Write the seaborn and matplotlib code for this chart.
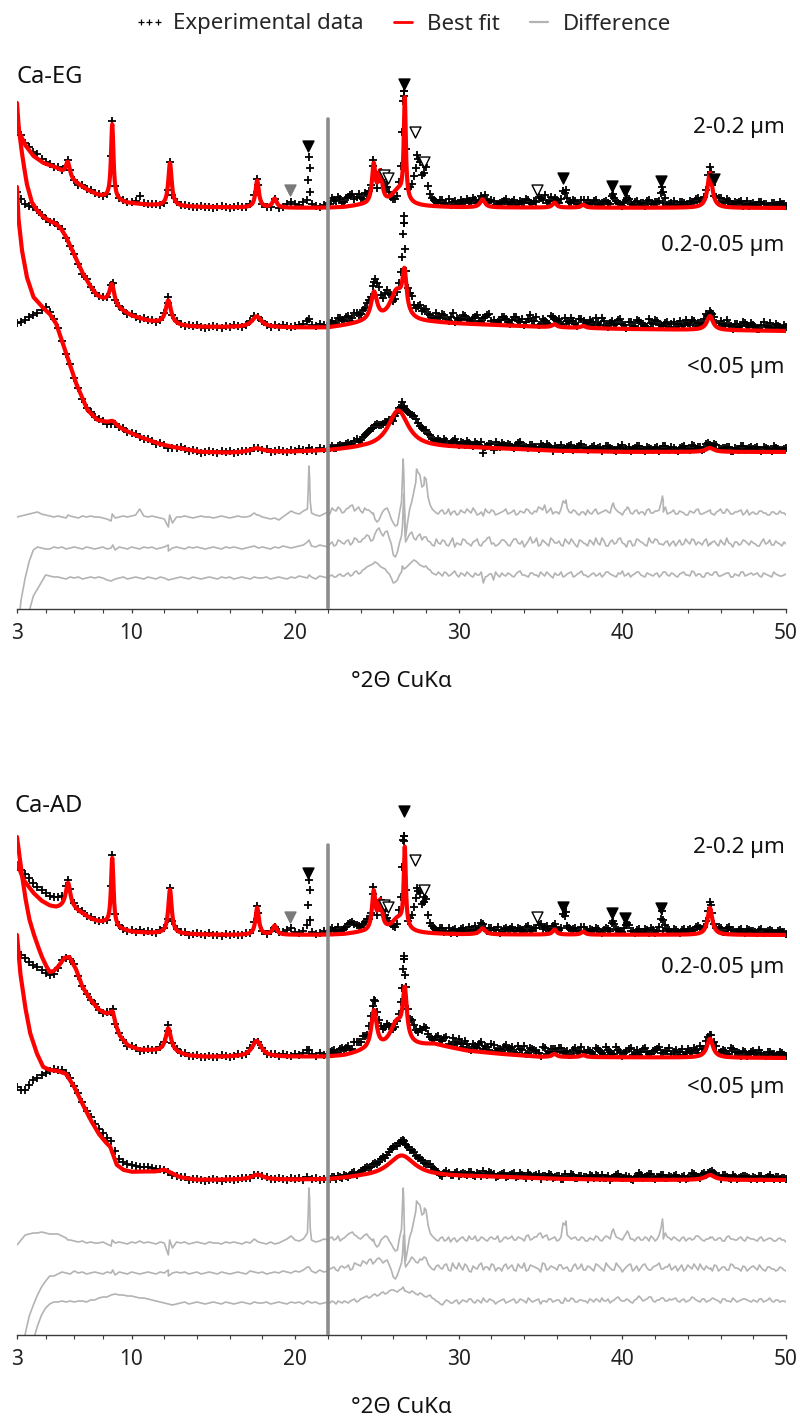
import numpy as np
import matplotlib
matplotlib.use("Agg")
import matplotlib.pyplot as plt
from matplotlib.lines import Line2D
import seaborn as sns

# ---------------------------------------------------------------------------
# XRD patterns of Ca-saturated clay fractions (ethylene glycol / air dried).
# Intensities are in display units above each pattern's own baseline.
# Profile fits: background knots (2θ, I) + Lorentzian peaks (2θ, height, FWHM).
# Residuals (observed - fit) listed on a 0.25° 2θ grid from 3° to 50°,
# a second interleaved 0.25° grid from 22.125° to 49.875°, and extra
# observed points on sharp reflections.
# ---------------------------------------------------------------------------
GRID_START, GRID_STEP = 3.0, 0.25
HALF_START = 22.125

# ---------------- Ca-EG, 2-0.2 µm ----------------
eg1_bg = [(3.0, 80), (3.5, 63), (4.0, 52), (4.6, 45), (5.4, 40), (5.8, 35), (6.5, 26), (7.3, 18),
          (7.9, 13), (8.5, 10), (9.2, 7), (9.7, 5), (11.0, 3), (12.0, 2), (14.0, 1), (16.0, 0.5),
          (19.0, 0), (22.0, 0), (23.0, 0.5), (24.0, 2), (28.0, 1), (30.0, 0.5), (50.0, 0)]
eg1_peaks = [(6.1, 15, 0.3), (8.82, 75, 0.18), (12.35, 43, 0.25), (17.68, 27, 0.25), (18.75, 9, 0.3),
             (24.8, 38, 0.25), (25.2, 30, 0.3), (26.3, 15, 1.0), (26.7, 100, 0.15), (31.45, 8, 0.35),
             (35.85, 5, 0.3), (37.6, 3, 0.3), (45.35, 35, 0.35)]
eg1_res = [0, 1, 2, 3, 4, 5, 3, 2, 1, 0, 1, 0, -1, 1, 0, -1, 1, 0, 1, 0,
           0, -1, -2, -4, -1, 0, 1, 0, 1, 2, 8, 1, 0, 1, 0, -1, -2, -10, -6, 0,
           0, 1, 0, -1, 0, 1, 0, 0, -1, 0, 1, 0, -1, 0, 1, 0, 0, 1, 4, 2,
           0, -1, -2, -1, -3, 0, 3, 6, 4, 3, 6, 8, 4, 2, 1, 3, 5, 9, 6, 8,
           5, 9, 12, 8, 6, 9, 7, 3, -5, 2, 8, 4, -6, -8, 15, -20, 8, 25, 45, 30,
           38, 12, 6, 3, 7, 4, 2, 6, 3, 5, 8, 4, 6, 3, 1, 5, 7, 2, 4, 6,
           3, 5, 2, 6, 4, 7, 3, 5, 9, 12, 6, 3, 5, 8, 14, 5, 7, 3, 5, 2,
           4, 6, 3, 5, 7, 4, 10, 5, 2, 8, 4, 6, 3, 5, 7, 4, 6, 7, 5, 3,
           5, 3, 6, 4, 2, 5, 7, 3, 4, 6, 3, 5, 8, 4, 6, 3, 5, 7, 4, 2,
           5, 3, 6, 4, 2, 5, 3, 4, 2]
eg1_res_half = [3, 7, 10, 4, 8, 11, 6, 10, 4, 7, 5, -2, -3, 6, 9, -2, -9, 4, 50, -5,
                15, 35, 42, 32, 20, 8, 4, 6, 3, 8, 5, 2, 7, 4, 6, 9, 2, 5, 8, 4,
                6, 3, 5, 8, 4, 7, 3, 5, 8, 4, 6, 10, 7, 4, 9, 5, 3, 16, 9, 4,
                6, 2, 5, 7, 3, 8, 4, 6, 5, 12, 7, 4, 6, 9, 3, 7, 5, 2, 8, 4,
                6, 15, 10, 4, 7, 3, 5, 2, 6, 4, 8, 3, 5, 7, 2, 6, 4, 8, 3, 5,
                6, 2, 7, 4, 3, 6, 4, 2, 5, 3, 6, 4]
eg1_extra = [(6.12, 2), (8.82, 3), (12.33, 2), (17.66, 2), (20.80, 28), (20.84, 51), (20.88, 40),
             (20.92, 16), (24.78, 4), (26.56, 40), (26.60, 58), (26.64, 44), (26.68, 12), (27.42, 48),
             (27.90, 40), (36.55, 17), (39.45, 14), (40.30, 10), (42.45, 21), (42.50, 16), (45.40, 4)]

# ---------------- Ca-EG, 0.2-0.05 µm ----------------
eg2_bg = [(3.0, 224), (3.1, 200), (3.25, 180), (3.4, 163), (3.6, 143), (3.9, 125), (4.2, 117),
          (4.6, 110), (5.0, 106), (5.4, 103), (5.7, 98), (6.0, 90), (6.5, 72), (7.0, 54), (7.5, 40),
          (7.9, 31), (8.3, 27), (8.8, 23), (9.2, 18), (10.0, 11), (11.0, 6), (12.0, 3), (13.0, 1),
          (14.0, 0), (22.0, -1), (23.0, 1), (24.0, 3), (25.0, 4), (28.5, 4), (30.0, 3), (32.0, 2),
          (35.0, 0), (40.0, -2), (50.0, -4)]
eg2_peaks = [(8.8, 20, 0.35), (12.25, 24, 0.4), (17.65, 11, 0.7), (24.82, 28, 0.45), (26.2, 30, 1.0),
             (26.68, 39, 0.3), (35.85, 3, 0.35), (37.6, 2, 0.35), (45.35, 14, 0.45)]
eg2_res = [-89, -52, -30, -13, -2, 1, 0, -1, -1, 1, 0, 1, -1, 0, 1, 0, -1, 1, 0, -1,
           0, 1, -1, 0, -2, 1, 0, -1, 1, 0, -1, 1, 0, 1, -1, 0, 1, -3, 0, 1,
           0, -1, 1, 0, 1, 0, -1, 0, 1, 0, -1, 1, 0, 1, 0, -1, 0, 1, 2, 0,
           1, 0, -1, 1, 0, 2, 1, 0, 1, 2, 3, 6, 2, 1, 3, 2, 1, 6, 3, 7,
           4, 8, 5, 9, 6, 10, 12, 8, 18, 15, 16, 10, -7, -4, 12, 6, 14, 10, 12, 8,
           11, 6, 2, 5, 8, 3, 6, 1, 4, 9, 5, 2, 7, 3, 6, 10, 4, 2, 5, 8,
           3, 6, 9, 4, 1, 7, 5, 10, 3, 6, 2, 8, 5, 3, 9, 4, 6, 1, 7, 4,
           8, 3, 5, 10, 2, 6, 4, 9, 5, 1, 7, 3, 8, 5, 2, 6, 9, 4, 3, 7,
           5, 2, 8, 4, 6, 9, 3, 5, 7, 2, 6, 4, 8, 3, 5, 1, 6, 4, 7, 3,
           5, 2, 6, 4, 8, 3, 5, 2, 4]
eg2_res_half = [4, 2, 8, 5, 7, 3, 10, 6, 9, 13, 7, 14, 20, 12, 17, 4, -9, 5, 48, 10,
                16, 8, 14, 11, 7, 3, 9, 4, 7, 2, 10, 5, 3, 8, 4, 6, 9, 2, 7, 11,
                5, 3, 8, 6, 2, 9, 5, 7, 4, 11, 6, 2, 8, 4, 10, 5, 7, 2, 6, 9,
                3, 8, 5, 2, 6, 10, 3, 7, 2, 8, 5, 10, 4, 7, 2, 9, 6, 3, 10, 5,
                8, 4, 6, 2, 7, 5, 3, 9, 4, 8, 6, 3, 9, 5, 7, 2, 5, 10, 4, 6,
                3, 8, 5, 7, 4, 2, 9, 5, 3, 7, 4, 6]
eg2_extra = [(8.85, 3), (12.25, 3), (20.85, 8), (24.80, 10), (26.56, 22), (26.60, 40), (26.63, 54),
             (26.66, 45), (26.70, 20), (45.40, 4)]

# ---------------- Ca-EG, <0.05 µm ----------------
eg3_bg = [(3.0, 265), (3.08, 235), (3.3, 202), (3.6, 175), (4.0, 155), (4.6, 144), (5.0, 138),
          (5.4, 128), (6.0, 99), (6.6, 69), (7.3, 42), (7.9, 32), (8.5, 29), (9.0, 26), (9.5, 22),
          (10.5, 15), (11.7, 8), (12.5, 5), (13.5, 2), (14.2, 0), (16.0, -1), (20.0, 0), (22.0, 1),
          (24.0, 3), (28.5, 4), (30.0, 4), (33.0, 3), (36.0, 1), (40.0, 0), (50.0, 0)]
eg3_peaks = [(8.85, 4, 0.5), (17.65, 4, 1.0), (26.3, 38, 1.5), (45.35, 4, 0.6)]
eg3_res = [-136, -80, -52, -33, -18, -11, -4, 3, 2, 1, 1, 0, -1, 1, 0, 1, -1, 0, 1, 0,
           1, 0, -2, -3, -1, 0, 1, -1, 0, 1, 0, -1, 1, 0, -1, 1, 0, -2, -1, 0,
           1, 0, -1, 1, 0, -1, 0, 1, 0, -1, 1, 0, 1, -1, 0, 1, 0, -1, 1, 0,
           0, 1, -1, 0, 1, 0, -1, 1, 0, 2, 1, 0, 1, -1, 2, 1, 0, 3, 1, 4,
           2, 5, 3, 7, 5, 9, 12, 14, 15, 11, 9, 4, -5, -2, 6, 10, 14, 18, 15, 12,
           12, 8, 4, 6, 2, 5, 3, 7, 1, 4, 6, 2, 5, 3, -5, 2, 4, 6, 1, 3,
           5, 2, 4, 7, 3, 1, 5, 3, 6, 2, 4, 0, 3, 6, 2, 5, 1, 4, 7, 3,
           2, 5, 3, 1, 6, 4, 2, 5, 7, 3, 1, 4, 6, 2, 5, 3, 4, 1, 6, 3,
           5, 2, 4, 6, 3, 7, 2, 4, 1, 5, 3, 6, 2, 4, 5, 1, 3, 6, 2, 4,
           3, 5, 1, 4, 2, 6, 3, 2, 4]
eg3_res_half = [2, 1, 3, 2, 4, 2, 6, 4, 8, 11, 13, 16, 13, 10, 6, 0, -4, 3, 10, 12,
                16, 17, 13, 11, 9, 5, 3, 4, 6, 2, 5, 3, 5, 2, 4, 1, 3, 6, 1, 4,
                -2, 3, 5, 2, 4, 1, 6, 3, 2, 5, 3, 1, 4, 6, 2, 5, 3, 1, 4, 6,
                2, 5, 3, 1, 4, 2, 5, 3, 6, 3, 1, 4, 2, 5, 3, 6, 3, 1, 4, 2,
                5, 3, 6, 2, 4, 1, 5, 3, 2, 6, 4, 1, 5, 3, 6, 2, 3, 5, 1, 4,
                2, 6, 3, 5, 4, 2, 5, 3, 1, 4, 2, 3]
eg3_extra = [(20.85, 3), (26.55, 12), (26.65, 9)]

# ---------------- Ca-AD, 2-0.2 µm ----------------
ad1_bg = [(3.0, 72), (3.4, 55), (4.0, 42), (4.5, 34), (5.0, 29), (5.4, 27), (5.8, 27), (6.5, 25),
          (7.0, 21), (7.5, 16), (8.0, 13), (8.4, 12), (9.2, 6), (10.0, 3), (11.0, 2), (12.0, 1.5),
          (14.0, 0.5), (16.0, 0), (22.0, 0), (23.0, 0.5), (24.0, 2), (28.0, 1), (30.0, 0.5), (50.0, 0)]
ad1_peaks = [(6.12, 26, 0.35), (8.82, 68, 0.18), (12.35, 44, 0.25), (17.68, 27, 0.25), (18.75, 9, 0.3),
             (24.8, 38, 0.25), (25.2, 28, 0.3), (26.3, 14, 1.0), (26.7, 78, 0.15), (31.45, 6, 0.4),
             (35.85, 5, 0.3), (37.6, 3, 0.3), (45.35, 27, 0.35)]
ad1_res = [-2, 3, 8, 9, 10, 10, 11, 10, 9, 9, 9, 7, 5, 3, 2, 1, 2, 0, 1, 0,
           0, 1, -1, -3, 0, 1, 0, -1, 1, 0, 2, 0, 1, 0, -1, 1, 0, -12, -5, 1,
           0, 1, -1, 0, 1, 0, -1, 1, 0, 0, -1, 1, 0, 1, 0, -1, 1, 0, 4, 1,
           0, -1, 1, -1, 0, 2, 4, 7, 3, 2, 4, 10, 3, 1, 2, 4, 3, 6, 4, 2,
           5, 9, 11, 7, 4, 8, 6, 2, -4, 3, 7, 2, -5, -7, 14, -18, 6, 22, 40, 28,
           33, 10, 5, 2, 6, 3, 1, 5, 3, 6, 2, 4, 7, 3, 5, 2, 6, 4, 1, 5,
           4, 7, 3, 5, 2, 8, 4, 6, 10, 7, 3, 5, 2, 6, 18, 6, 5, 3, 6, 2,
           5, 3, 6, 2, 7, 4, 11, 5, 3, 10, 4, 2, 6, 3, 5, 7, 2, 8, 4, 6,
           3, 5, 2, 6, 4, 3, 7, 5, 2, 4, 6, 3, 5, 2, 7, 4, 3, 6, 2, 5,
           4, 2, 6, 3, 5, 2, 4, 3, 1]
ad1_res_half = [5, 3, 7, 4, 7, 10, 8, 5, 6, 9, 4, -1, -2, 5, 6, -1, -8, 5, 48, -6,
                12, 32, 38, 30, 18, 7, 3, 5, 2, 6, 4, 1, 5, 3, 7, 4, 2, 6, 3, 5,
                4, 7, 2, 6, 5, 3, 6, 4, 7, 3, 6, 9, 5, 8, 4, 6, 3, 20, 8, 4,
                6, 3, 5, 2, 4, 7, 3, 5, 6, 12, 6, 4, 7, 10, 4, 5, 3, 6, 2, 5,
                4, 16, 10, 5, 6, 3, 5, 2, 5, 4, 7, 3, 4, 6, 3, 5, 2, 6, 4, 3,
                5, 3, 6, 4, 3, 5, 2, 4, 4, 2, 5, 3]
ad1_extra = [(6.12, 3), (8.82, 3), (12.33, 3), (17.66, 2), (20.80, 30), (20.84, 55), (20.88, 45),
             (20.92, 15), (24.78, 4), (26.56, 38), (26.60, 55), (26.64, 40), (26.68, 10), (27.42, 42),
             (27.90, 35), (36.55, 22), (39.45, 14), (40.30, 12), (42.45, 24), (42.50, 15), (45.40, 5)]

# ---------------- Ca-AD, 0.2-0.05 µm ----------------
ad2_bg = [(3.0, 220), (3.25, 188), (3.5, 160), (3.75, 138), (4.0, 124), (4.25, 112), (4.5, 101),
          (4.75, 92), (5.0, 85), (5.25, 86), (5.5, 90), (5.9, 99), (6.2, 100), (6.6, 88), (7.0, 70),
          (7.5, 57), (8.0, 47), (8.4, 43), (8.7, 40), (9.0, 30), (9.3, 20), (9.8, 11), (10.5, 7),
          (11.5, 6), (12.6, 4), (13.5, 1), (14.5, 0), (22.0, 0), (23.0, 1), (24.0, 4), (25.0, 5),
          (28.5, 12), (30.5, 6), (32.5, 3), (35.0, 0), (50.0, -1)]
ad2_peaks = [(8.85, 10, 0.3), (12.25, 24, 0.4), (17.65, 16, 0.7), (24.82, 39, 0.4), (26.2, 25, 1.0),
             (26.7, 49, 0.3), (35.85, 3, 0.35), (37.6, 2, 0.35), (45.35, 19, 0.45)]
ad2_res = [-115, -86, -61, -43, -32, -22, -14, -8, -3, -3, -1, 1, 0, -1, 2, 0, 1, -1, 0, 1,
           0, -1, 1, 0, -2, 1, 0, -1, 1, 0, -1, 0, 1, 0, -1, 1, 0, -3, 0, 1,
           0, 1, -1, 0, 1, -1, 0, 1, 0, -1, 1, 0, -1, 0, 1, 0, -1, 2, 1, 0,
           1, -1, 0, 1, 0, 2, 1, 0, 2, 1, 3, 6, 2, 0, 3, 1, 2, 5, 3, 6,
           5, 8, 4, 9, 7, 11, 13, 9, 14, 13, 12, 8, -4, -2, 10, 6, 12, 14, 10, 13,
           15, 6, 3, 8, 4, 9, 2, 6, 10, 3, 7, 1, 5, 8, 3, 6, 9, 2, 5, 7,
           4, 8, 2, 6, 10, 3, 7, 5, 1, 9, 4, 6, 3, 8, 5, 2, 7, 4, 9, 3,
           6, 2, 8, 4, 10, 5, 3, 7, 1, 6, 9, 4, 2, 8, 5, 3, 7, 10, 4, 6,
           3, 7, 5, 2, 8, 4, 6, 9, 3, 5, 2, 7, 4, 6, 3, 8, 5, 2, 6, 4,
           7, 3, 5, 2, 6, 4, 3, 5, 2]
ad2_res_half = [4, 6, 2, 7, 6, 3, 10, 8, 12, 9, 14, 11, 15, 10, 13, 3, -6, 4, 36, 9,
                16, 11, 14, 16, 9, 4, 7, 5, 8, 3, 10, 4, 6, 9, 2, 7, 4, 10, 6, 3,
                8, 5, 2, 9, 6, 3, 9, 5, 2, 8, 6, 4, 10, 3, 7, 5, 8, 4, 6, 2,
                9, 5, 3, 7, 4, 9, 6, 2, 7, 3, 10, 5, 4, 8, 2, 7, 5, 9, 3, 6,
                8, 4, 6, 9, 5, 2, 8, 4, 6, 9, 3, 5, 7, 4, 8, 2, 6, 3, 9, 5,
                4, 7, 2, 6, 5, 8, 3, 6, 4, 2, 6, 3]
ad2_extra = [(8.85, 3), (12.25, 3), (20.85, 6), (24.80, 10), (26.56, 18), (26.60, 30), (26.63, 38),
             (26.66, 30), (26.70, 12), (45.40, 5)]

# ---------------- Ca-AD, <0.05 µm ----------------
ad3_bg = [(3.0, 245), (3.2, 207), (3.5, 173), (3.8, 147), (4.2, 127), (4.6, 113), (5.0, 110),
          (5.5, 109), (6.0, 106), (6.5, 93), (7.0, 76), (7.5, 60), (8.0, 46), (8.4, 38), (8.7, 33),
          (9.1, 15), (9.5, 10), (10.0, 8), (11.0, 8), (12.5, 5), (13.0, 2), (14.0, 0), (16.0, 0),
          (22.0, 0), (23.0, 1), (24.0, 2), (29.0, 3), (32.0, 3), (36.0, 1), (40.0, 0), (50.0, 0)]
ad3_peaks = [(12.0, 4, 0.8), (17.7, 5, 0.9), (26.5, 22, 2.0), (45.35, 5, 0.7)]
ad3_res = [-152, -111, -83, -56, -37, -23, -12, -5, -1, 1, 1, 2, 1, 2, 1, 2, 2, 1, 3, 3,
           5, 6, 6, 8, 9, 8, 8, 7, 7, 6, 5, 5, 4, 3, 2, 1, 0, -1, -2, -1,
           0, 1, -1, 0, 1, 0, -1, 0, 1, 0, -1, 1, 0, -1, 0, 1, 0, -1, 1, 0,
           0, 1, -1, 0, 1, 0, -1, 1, 0, 1, -1, 2, 0, 1, -1, 0, 1, 2, -1, 1,
           2, 0, 3, 1, 4, 6, 5, 8, 7, 10, 9, 12, 13, 11, 14, 12, 10, 11, 8, 9,
           6, 8, 4, 1, -2, 3, 0, 2, -1, 3, 1, 4, 0, 2, 5, 1, 3, -1, 2, 4,
           1, 3, 0, 4, 2, 5, 1, 3, -1, 2, 4, 1, 3, 0, 5, 2, 4, 1, 3, 2,
           4, 1, 3, 5, 2, 0, 3, 6, 2, 4, 1, 3, 7, 2, 4, 6, 1, 3, 5, 2,
           3, 5, 1, 4, 2, 6, 3, 1, 4, 2, 5, 3, 0, 4, 2, 5, 1, 3, 4, 2,
           3, 1, 4, 2, 5, 1, 3, 2, 1]
ad3_res_half = [0, 1, 2, 0, 1, 2, 4, 2, 5, 7, 6, 9, 8, 11, 10, 13, 12, 13, 15, 11,
                12, 9, 10, 7, 7, 5, 2, -1, 1, 2, 0, 3, 1, 2, 4, 1, 3, 0, 2, 4,
                2, 1, 3, 0, 2, 4, 1, 3, 0, 3, 2, 4, 2, 1, 4, 2, 3, 0, 2, 5,
                1, 3, 2, 0, 3, 4, 1, 2, 4, 2, 5, 3, 2, 3, 0, 4, 5, 3, 6, 2,
                3, 5, 2, 4, 4, 2, 3, 1, 3, 5, 2, 4, 1, 3, 4, 2, 4, 2, 1, 3,
                2, 4, 3, 1, 2, 4, 1, 3, 2, 3, 1, 2]
ad3_extra = [(26.60, 16), (26.70, 12)]

fraction_labels = ["2-0.2 µm", "0.2-0.05 µm", "<0.05 µm"]

# Reflection markers (2θ, kind) with heights above the 2-0.2 µm baseline
mark_2theta = [19.7, 20.8, 25.45, 25.7, 26.65, 27.3, 27.85, 34.8, 36.4, 39.35, 40.15, 42.35, 45.6]
mark_kind = ["gray", "black", "open", "open", "black", "open", "open", "open",
             "black", "black", "black", "black", "black"]
mark_h_eg = [18, 62, 33, 30, 124, 76, 46, 18, 30, 22, 17, 27, 29]
mark_h_ad = [18, 62, 30, 28, 124, 75, 45, 18, 28, 22, 17, 27, None]

x_major = [3, 10, 20, 30, 40, 50]
x_minor = [4.75, 6.5, 8.25, 12, 14, 16, 18, 22, 24, 26, 28, 32, 34, 36, 38, 42, 44, 46, 48]

# ---------------------------------------------------------------------------
sns.set_theme(style="ticks")
plt.rcParams["font.family"] = ["Noto Sans", "DejaVu Sans"]

W, H = 800, 1420
fig = plt.figure(figsize=(W / 100, H / 100), dpi=100)

AX_LEFT, AX_RIGHT, AX_HEIGHT = 17, 786, 549


def profile(x, bg, peaks):
    bx = [p[0] for p in bg]
    bh = [p[1] for p in bg]
    y = np.interp(x, bx, bh)
    for c, h, w in peaks:
        y = y + h / (1.0 + ((x - c) / (w / 2.0)) ** 2)
    return y


def draw_panel(ax, patterns, offsets, diff_offsets, label_y, mark_h):
    x_fine = np.arange(3.0, 50.0001, 0.01)
    for (bg, peaks, res, res_half, extra), off, doff, ly, lab in zip(
            patterns, offsets, diff_offsets, label_y, fraction_labels):
        xg = GRID_START + GRID_STEP * np.arange(len(res))
        xh = HALF_START + GRID_STEP * np.arange(len(res_half))
        xe = np.array([e[0] for e in extra])
        re = np.array([e[1] for e in extra], dtype=float)
        xs = np.concatenate([xg, xh, xe])
        rs = np.concatenate([np.asarray(res, dtype=float), np.asarray(res_half, dtype=float), re])
        order = np.argsort(xs)
        xs, rs = xs[order], rs[order]
        obs = profile(xs, bg, peaks) + rs + off

        sns.lineplot(x=xs, y=rs + doff, ax=ax, color="#b3b3b3", linewidth=1.2,
                     estimator=None, sort=False, legend=False, zorder=2)
        sns.scatterplot(x=xs, y=obs, ax=ax, marker="+", color="black", s=34,
                        linewidth=1.3, legend=False, zorder=3)
        sns.lineplot(x=x_fine, y=profile(x_fine, bg, peaks) + off, ax=ax, color="#ff0000",
                     linewidth=3.0, estimator=None, sort=False, legend=False, zorder=4)
        ax.text(49.9, ly, lab, ha="right", va="center", fontsize=16, color="#111111")

    ax.axvline(22.0, ymin=0, ymax=490 / AX_HEIGHT, color="#8c8c8c", linewidth=2.6, zorder=5)

    style = {"black": dict(color="black", edgecolor="black"),
             "open": dict(color="white", edgecolor="black"),
             "gray": dict(color="#7a7a7a", edgecolor="#7a7a7a")}
    for kind in ("gray", "black", "open"):
        xs = [t for t, k, h in zip(mark_2theta, mark_kind, mark_h) if k == kind and h is not None]
        ys = [offsets[0] + h for t, k, h in zip(mark_2theta, mark_kind, mark_h)
              if k == kind and h is not None]
        sns.scatterplot(x=xs, y=ys, ax=ax, marker="v", s=62, linewidth=1.0,
                        legend=False, zorder=6, **style[kind])

    ax.set_xlim(3, 50)
    ax.set_ylim(0, AX_HEIGHT)
    ax.set_yticks([])
    ax.set_xticks(x_major)
    ax.set_xticks(x_minor, minor=True)
    ax.set_xticklabels([str(v) for v in x_major])
    sns.despine(ax=ax, left=True, right=True, top=True)
    ax.spines["bottom"].set_color("#3a3a3a")
    ax.spines["bottom"].set_linewidth(1.0)
    ax.tick_params(axis="x", which="major", length=3.2, width=0.9, color="#3a3a3a",
                   pad=7, labelsize=15, labelcolor="#222222")
    ax.tick_params(axis="x", which="minor", length=2.6, width=0.8, color="#3a3a3a")
    ax.set_xlabel("°2Θ CuKα", fontsize=16, labelpad=19, color="#111111")
    ax.set_ylabel("")
    ax.patch.set_alpha(0)


ax_eg = fig.add_axes([AX_LEFT / W, 1 - 609 / H, (AX_RIGHT - AX_LEFT) / W, AX_HEIGHT / H])
ax_ad = fig.add_axes([AX_LEFT / W, 1 - 1335 / H, (AX_RIGHT - AX_LEFT) / W, AX_HEIGHT / H])

draw_panel(ax_eg,
           [(eg1_bg, eg1_peaks, eg1_res, eg1_res_half, eg1_extra),
            (eg2_bg, eg2_peaks, eg2_res, eg2_res_half, eg2_extra),
            (eg3_bg, eg3_peaks, eg3_res, eg3_res_half, eg3_extra)],
           offsets=[401, 282, 157], diff_offsets=[92, 61, 31],
           label_y=[482, 364, 242], mark_h=mark_h_eg)
draw_panel(ax_ad,
           [(ad1_bg, ad1_peaks, ad1_res, ad1_res_half, ad1_extra),
            (ad2_bg, ad2_peaks, ad2_res, ad2_res_half, ad2_extra),
            (ad3_bg, ad3_peaks, ad3_res, ad3_res_half, ad3_extra)],
           offsets=[400, 278, 155], diff_offsets=[92, 62, 32],
           label_y=[487, 368, 247], mark_h=mark_h_ad)

fig.text(17 / W, 1 - 77 / H, "Ca-EG", fontsize=17, ha="left", va="center", color="#111111")
fig.text(14 / W, 1 - 806 / H, "Ca-AD", fontsize=17, ha="left", va="center", color="#111111")

handles = [Line2D([], [], linestyle="None", marker="+", color="black", markersize=4,
                  markeredgewidth=0.9),
           Line2D([], [], color="#ff0000", linewidth=2.0),
           Line2D([], [], color="#b3b3b3", linewidth=1.6)]
fig.legend(handles, ["Experimental data", "Best fit", "Difference"], loc="center",
           bbox_to_anchor=(0.503, 1 - 24 / H), ncol=3, frameon=False, fontsize=16,
           handlelength=1.4, handletextpad=0.35, columnspacing=1.1, numpoints=3)

fig.savefig("out.png", dpi=100)
